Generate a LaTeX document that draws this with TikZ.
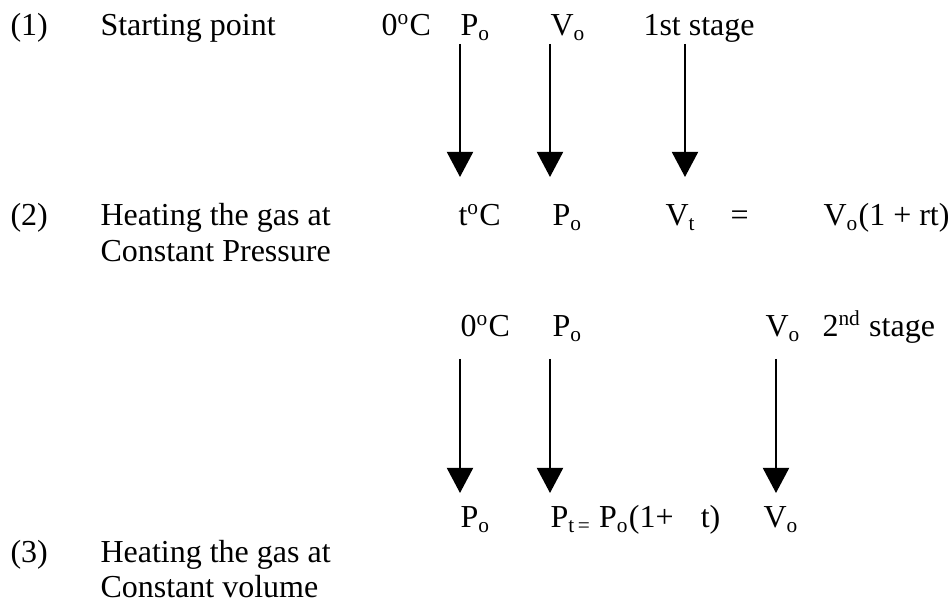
\documentclass[tikz,border=0pt]{standalone}
\usepackage{fontspec}
\setmainfont{Liberation Serif}
\usetikzlibrary{arrows.meta}

\begin{document}
\begin{tikzpicture}[x=0.375pt,y=-0.375pt,every node/.style={font=\fontsize{12}{14}\selectfont,anchor=base west,inner sep=0pt},flow/.style={-{Triangle[width=9.75pt,length=9.4pt]},line width=0.8pt}]
  \useasboundingbox (0,0) rectangle (949,607);
  % (1) starting point
  \node (num1) at (10,36) {(1)};
  \node (start) at (100,36) {Starting point};
  \node (temp1) at (381,36) {0\textsuperscript{o}C};
  \node (pres1) at (460,36) {P\textsubscript{o}};
  \node (vol1) at (550,36) {V\textsubscript{o}};
  \node (stage1) at (643,36) {1st stage};
  % (2) constant pressure
  \node (num2) at (10,226) {(2)};
  \node (heatp) at (100,226) {Heating the gas at};
  \node (constp) at (100,262) {Constant Pressure};
  \node (temp2) at (458,226) {t\textsuperscript{o}C};
  \node (pres2) at (552,226) {P\textsubscript{o}};
  \node (vol2) at (665,226) {V\textsubscript{t}};
  \node (eq2) at (730,226) {=};
  \node (law2) at (823,226) {V\textsubscript{o}(1 + rt)};
  % second stage
  \node (temp3) at (460,337) {0\textsuperscript{o}C};
  \node (pres3) at (552,337) {P\textsubscript{o}};
  \node (vol3) at (765,337) {V\textsubscript{o}};
  \node (stage2) at (822,337) {2\textsuperscript{nd} stage};
  \node (pres4) at (460,528) {P\textsubscript{o}};
  \node (law4) at (550,528) {P\textsubscript{t\,=} P\textsubscript{o}(1+\hspace{0.85em}t)};
  \node (vol4) at (763,528) {V\textsubscript{o}};
  % (3) constant volume
  \node (num3) at (10,563) {(3)};
  \node (heatv) at (100,563) {Heating the gas at};
  \node (constv) at (100,598) {Constant volume};
  % arrow ends
  \coordinate (a1) at (460,44);  \coordinate (b1) at (460,177);
  \coordinate (a2) at (550,44);  \coordinate (b2) at (550,177);
  \coordinate (a3) at (685,44);  \coordinate (b3) at (685,177);
  \coordinate (a4) at (460,359); \coordinate (b4) at (460,493);
  \coordinate (a5) at (550,359); \coordinate (b5) at (550,493);
  \coordinate (a6) at (776,359); \coordinate (b6) at (776,493);
  \draw[flow] (a1) -- (b1);
  \draw[flow] (a2) -- (b2);
  \draw[flow] (a3) -- (b3);
  \draw[flow] (a4) -- (b4);
  \draw[flow] (a5) -- (b5);
  \draw[flow] (a6) -- (b6);
\end{tikzpicture}
\end{document}
